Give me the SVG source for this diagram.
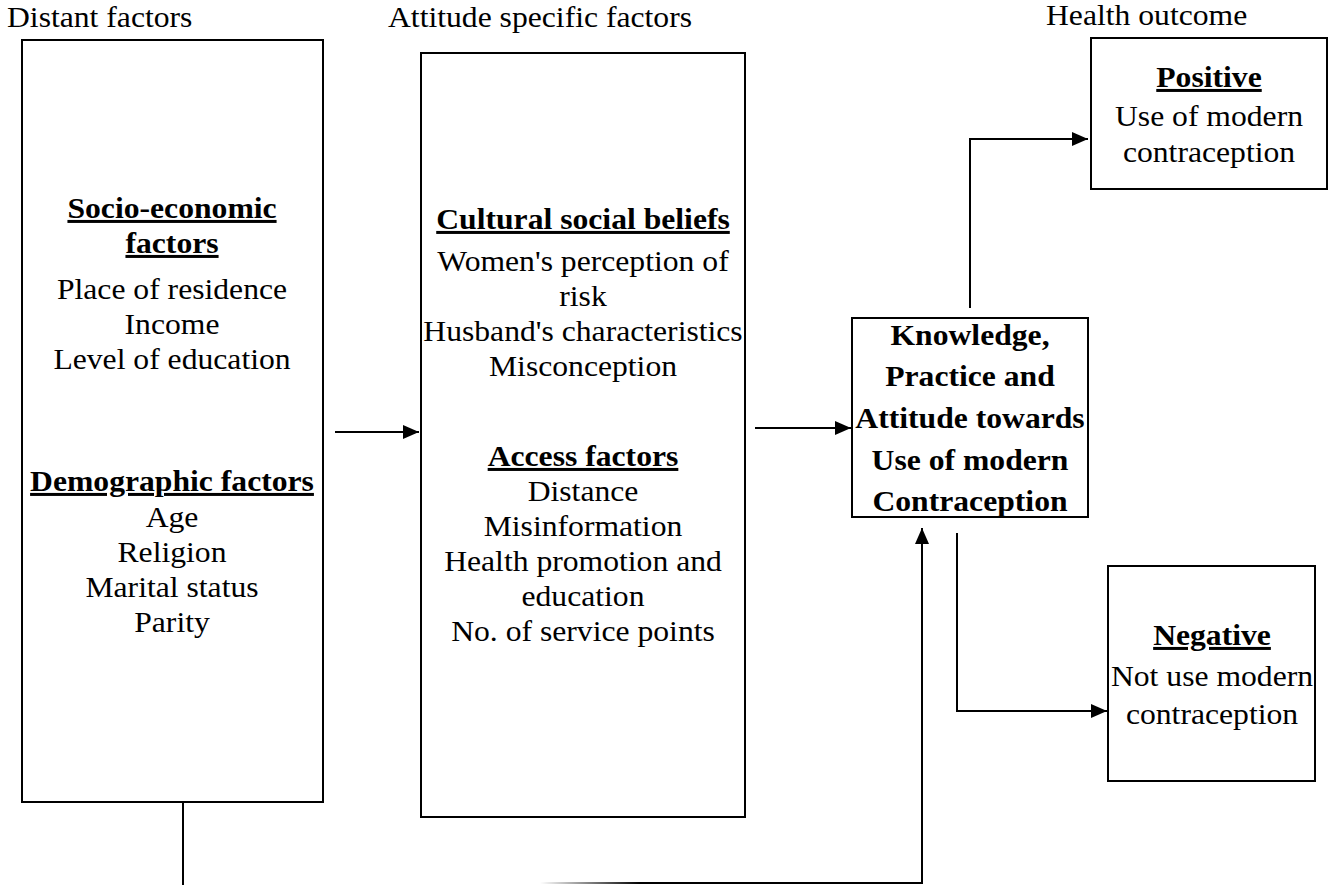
<svg xmlns="http://www.w3.org/2000/svg" width="1333" height="885" viewBox="0 0 1333 885">
<style>
.box{fill:#fff;stroke:#000;stroke-width:2}
.ln{fill:none;stroke:#000;stroke-width:2}
</style>
<defs>
<marker id="ah" markerUnits="userSpaceOnUse" markerWidth="16" markerHeight="14" refX="16" refY="7" orient="auto">
<path d="M0,0 L16,7 L0,14 Z" fill="#000"/>
</marker>
<linearGradient id="fade" gradientUnits="userSpaceOnUse" x1="540" y1="0" x2="640" y2="0">
<stop offset="0" stop-color="#000" stop-opacity="0"/>
<stop offset="1" stop-color="#000" stop-opacity="1"/>
</linearGradient>
</defs>
<rect width="1333" height="885" fill="#fff"/>
<g id="headers">
<text font-family="Liberation Serif" font-size="30" style="font-family:'Liberation Serif'" transform="translate(7 27) scale(1.055 1)">Distant factors</text>
<text font-family="Liberation Serif" font-size="30" style="font-family:'Liberation Serif'" transform="translate(388 27) scale(1.055 1)">Attitude specific factors</text>
<text font-family="Liberation Serif" font-size="30" style="font-family:'Liberation Serif'" transform="translate(1046 25) scale(1.055 1)">Health outcome</text>
</g>
<g id="connectors">
<line class="ln" x1="335" y1="432" x2="419" y2="432" marker-end="url(#ah)"/>
<line class="ln" x1="755" y1="428" x2="851" y2="428" marker-end="url(#ah)"/>
<polyline class="ln" points="970,308 970,139 1088,139" marker-end="url(#ah)"/>
<polyline class="ln" points="957,533 957,711 1107,711" marker-end="url(#ah)"/>
<line class="ln" x1="183" y1="803" x2="183" y2="885"/>
<line x1="540" y1="883" x2="923" y2="883" stroke="url(#fade)" stroke-width="2"/>
<line class="ln" x1="922" y1="884" x2="922" y2="528" marker-end="url(#ah)"/>
</g>
<g id="distant">
<rect class="box" x="22" y="40" width="301" height="762"/>
<g transform="translate(172 0) scale(1.055 1)" text-anchor="middle">
<text font-family="Liberation Serif" font-size="30" style="font-family:'Liberation Serif'" font-weight="bold" text-decoration="underline" y="218">Socio-economic</text>
<text font-family="Liberation Serif" font-size="30" style="font-family:'Liberation Serif'" font-weight="bold" text-decoration="underline" y="253">factors</text>
<text font-family="Liberation Serif" font-size="30" style="font-family:'Liberation Serif'" y="299">Place of residence</text>
<text font-family="Liberation Serif" font-size="30" style="font-family:'Liberation Serif'" y="334">Income</text>
<text font-family="Liberation Serif" font-size="30" style="font-family:'Liberation Serif'" y="369">Level of education</text>
<text font-family="Liberation Serif" font-size="30" style="font-family:'Liberation Serif'" font-weight="bold" text-decoration="underline" y="491">Demographic factors</text>
<text font-family="Liberation Serif" font-size="30" style="font-family:'Liberation Serif'" y="527">Age</text>
<text font-family="Liberation Serif" font-size="30" style="font-family:'Liberation Serif'" y="562">Religion</text>
<text font-family="Liberation Serif" font-size="30" style="font-family:'Liberation Serif'" y="597">Marital status</text>
<text font-family="Liberation Serif" font-size="30" style="font-family:'Liberation Serif'" y="632">Parity</text>
</g>
</g>
<g id="attitude">
<rect class="box" x="421" y="53" width="324" height="764"/>
<g transform="translate(583 0) scale(1.055 1)" text-anchor="middle">
<text font-family="Liberation Serif" font-size="30" style="font-family:'Liberation Serif'" font-weight="bold" text-decoration="underline" y="229">Cultural social beliefs</text>
<text font-family="Liberation Serif" font-size="30" style="font-family:'Liberation Serif'" y="271">Women's perception of</text>
<text font-family="Liberation Serif" font-size="30" style="font-family:'Liberation Serif'" y="306">risk</text>
<text font-family="Liberation Serif" font-size="30" style="font-family:'Liberation Serif'" y="341">Husband's characteristics</text>
<text font-family="Liberation Serif" font-size="30" style="font-family:'Liberation Serif'" y="376">Misconception</text>
<text font-family="Liberation Serif" font-size="30" style="font-family:'Liberation Serif'" font-weight="bold" text-decoration="underline" y="466">Access factors</text>
<text font-family="Liberation Serif" font-size="30" style="font-family:'Liberation Serif'" y="501">Distance</text>
<text font-family="Liberation Serif" font-size="30" style="font-family:'Liberation Serif'" y="536">Misinformation</text>
<text font-family="Liberation Serif" font-size="30" style="font-family:'Liberation Serif'" y="571">Health promotion and</text>
<text font-family="Liberation Serif" font-size="30" style="font-family:'Liberation Serif'" y="606">education</text>
<text font-family="Liberation Serif" font-size="30" style="font-family:'Liberation Serif'" y="641">No. of service points</text>
</g>
</g>
<g id="knowledge">
<rect class="box" x="852" y="318" width="236" height="199"/>
<g transform="translate(970 0) scale(1.055 1)" text-anchor="middle">
<text font-family="Liberation Serif" font-size="30" style="font-family:'Liberation Serif'" font-weight="bold" y="345">Knowledge,</text>
<text font-family="Liberation Serif" font-size="30" style="font-family:'Liberation Serif'" font-weight="bold" y="386">Practice and</text>
<text font-family="Liberation Serif" font-size="30" style="font-family:'Liberation Serif'" font-weight="bold" y="428">Attitude towards</text>
<text font-family="Liberation Serif" font-size="30" style="font-family:'Liberation Serif'" font-weight="bold" y="470">Use of modern</text>
<text font-family="Liberation Serif" font-size="30" style="font-family:'Liberation Serif'" font-weight="bold" y="511">Contraception</text>
</g>
</g>
<g id="positive">
<rect class="box" x="1091" y="38" width="236" height="151"/>
<g transform="translate(1209 0) scale(1.055 1)" text-anchor="middle">
<text font-family="Liberation Serif" font-size="30" style="font-family:'Liberation Serif'" font-weight="bold" text-decoration="underline" y="87">Positive</text>
<text font-family="Liberation Serif" font-size="30" style="font-family:'Liberation Serif'" y="126">Use of modern</text>
<text font-family="Liberation Serif" font-size="30" style="font-family:'Liberation Serif'" y="162">contraception</text>
</g>
</g>
<g id="negative">
<rect class="box" x="1108" y="566" width="207" height="215"/>
<g transform="translate(1212 0) scale(1.055 1)" text-anchor="middle">
<text font-family="Liberation Serif" font-size="30" style="font-family:'Liberation Serif'" font-weight="bold" text-decoration="underline" y="645">Negative</text>
<text font-family="Liberation Serif" font-size="30" style="font-family:'Liberation Serif'" y="686">Not use modern</text>
<text font-family="Liberation Serif" font-size="30" style="font-family:'Liberation Serif'" y="724">contraception</text>
</g>
</g>
</svg>
